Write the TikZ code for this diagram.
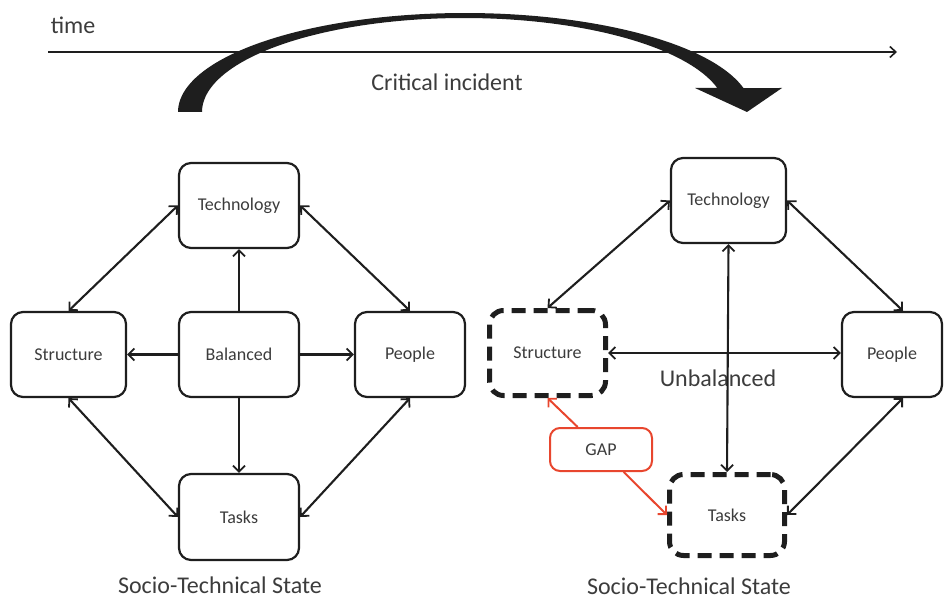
\documentclass[tikz,border=0pt]{standalone}
\usepackage{fontspec}
\setmainfont{Carlito}
\usetikzlibrary{arrows.meta}
\definecolor{txt}{HTML}{3C3C3C}
\definecolor{edge}{HTML}{1E1E1E}
\definecolor{gapred}{HTML}{E8462E}
\begin{document}
\begin{tikzpicture}[x=1pt,y=-1pt,
  box/.style={draw=edge, line width=2.2pt, rounded corners=12pt, fill=white,
    text=txt, font=\fontsize{18}{20}\selectfont, inner sep=0pt},
  dbox/.style={draw=edge, line width=5pt, rounded corners=14pt, fill=white,
    dash pattern=on 14pt off 8pt, text=txt, font=\fontsize{18}{20}\selectfont, inner sep=0pt},
  tip/.tip={Straight Barb[length=6pt,width=12pt,line width=1.8pt]},
  link/.style={draw=edge, line width=2.1pt},
  both/.style={link, tip-tip},
  one/.style={link, -tip},
  caption/.style={text=txt, font=\fontsize{24}{28}\selectfont, inner sep=0pt}
]
\useasboundingbox (0,0) rectangle (944,601);

% time axis
\node[caption] (timelbl) at (73,25) {time};
\coordinate (t0) at (48,52);
\coordinate (t1) at (897,52);
\draw[line width=2pt, draw=edge, -{Straight Barb[length=6pt,width=11pt,line width=1.6pt]}] (t0) -- (t1);

% critical incident: thick curved arrow
\fill[edge]
  plot[domain=180:14, samples=90] ({465+287*cos(\x)}, {112-99*sin(\x)})
  -- (782,88) -- (747,112) -- (695,88) -- (716,88)
  -- plot[domain=14.8:180, samples=90] ({464+262*cos(\x)}, {112-94*sin(\x)})
  -- cycle;
\node[caption] (incident) at (447,82) {Critical incident};

% balanced socio-technical state
\node[box, minimum width=120, minimum height=85] (ltech) at (239,205.5) {Technology};
\node[box, minimum width=115, minimum height=85] (lstruct) at (68.5,354.5) {Structure};
\node[box, minimum width=120, minimum height=85] (lbal) at (239,354.5) {Balanced};
\node[box, minimum width=110, minimum height=85] (lpeople) at (410,354.5) {People};
\node[box, minimum width=120, minimum height=86] (ltasks) at (239,517) {Tasks};
\node[caption] (lcap) at (220,585) {Socio-Technical State};

\draw[one] (lbal) -- (ltech);
\draw[one] (lbal) -- (lstruct);
\draw[one] (lbal) -- (lpeople);
\draw[one] (lbal) -- (ltasks);
\draw[both] (lstruct.north) -- (ltech.west);
\draw[both] (ltech.east) -- (lpeople.north);
\draw[both] (lstruct.south) -- (ltasks.west);
\draw[both] (lpeople.south) -- (ltasks.east);

% unbalanced socio-technical state
\node[box, minimum width=115, minimum height=85] (rtech) at (728.5,200.5) {Technology};
\node[dbox, minimum width=116, minimum height=85] (rstruct) at (547.5,353) {Structure};
\node[box, minimum width=100, minimum height=85] (rpeople) at (892,354.5) {People};
\node[dbox, minimum width=115, minimum height=81] (rtasks) at (727,515) {Tasks};
\node[caption] (unbal) at (718,378) {Unbalanced};
\node[caption] (rcap) at (689,586) {Socio-Technical State};

\draw[both] (rtech.south) -- (rtasks.north);
\draw[both] (rstruct.east) -- (rstruct.east -| rpeople.west);
\draw[both] (rstruct.north) -- (rtech.west);
\draw[both] (rtech.east) -- ([xshift=11]rpeople.north);
\draw[both] ([xshift=11]rpeople.south) -- (rtasks.east);

% gap between structure and tasks
\node[draw=gapred, line width=2pt, rounded corners=10pt, fill=white, text=txt,
  font=\fontsize{18}{20}\selectfont, minimum width=102, minimum height=43] (gap) at (601,449.5) {GAP};
\draw[draw=gapred, line width=2pt, -{Straight Barb[length=6pt,width=12pt,line width=1.8pt]}] (gap) -- (rstruct.south);
\draw[draw=gapred, line width=2pt, -{Straight Barb[length=6pt,width=12pt,line width=1.8pt]}] (gap) -- (rtasks.west);
\end{tikzpicture}
\end{document}
